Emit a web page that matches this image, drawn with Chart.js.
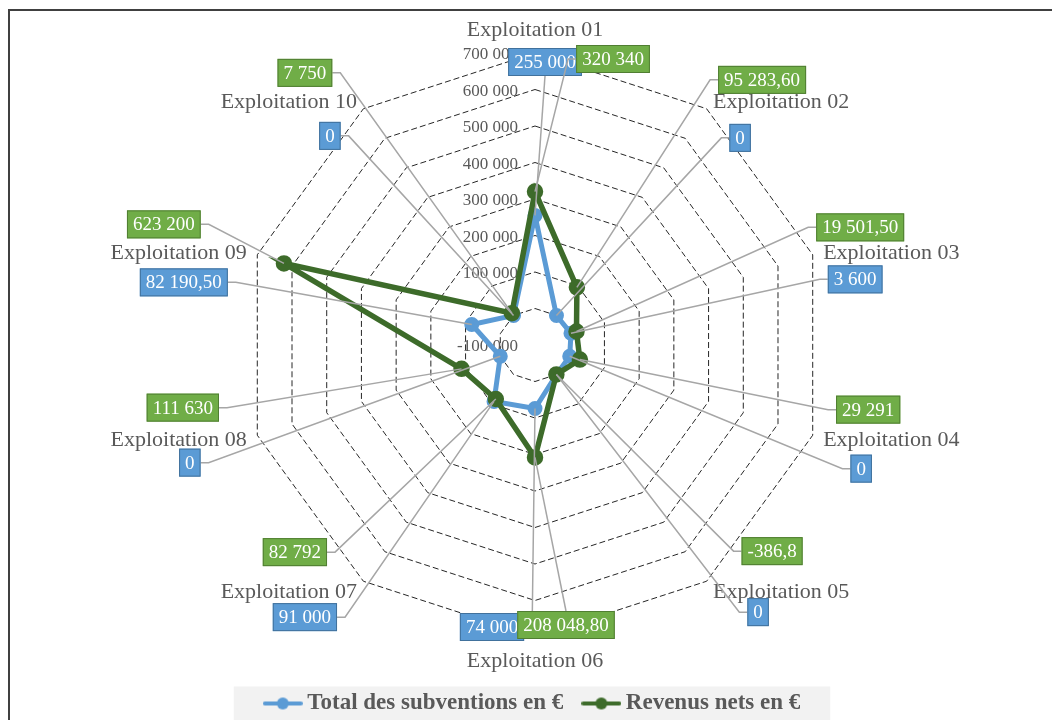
<!DOCTYPE html>
<html>
<head>
<meta charset="utf-8">
<script src="https://cdn.jsdelivr.net/npm/chart.js@4"></script>
<style>
  html, body { margin: 0; padding: 0; background: #fff; overflow: hidden; }
  #frame { position: absolute; left: 8px; top: 9px; width: 1100px; height: 800px;
           border-left: 2px solid #404040; border-top: 2px solid #404040; }
  #radar { position: absolute; left: 0; top: 0; }
</style>
</head>
<body>
<div id="frame"></div>
<canvas id="radar" width="1052" height="740"></canvas>
<script>
const categories = [
  "Exploitation 01", "Exploitation 02", "Exploitation 03", "Exploitation 04", "Exploitation 05",
  "Exploitation 06", "Exploitation 07", "Exploitation 08", "Exploitation 09", "Exploitation 10"
];
const subventions = [255000, 0, 3600, 0, 0, 74000, 91000, 0, 82190.5, 0];
const revenus = [320340, 95283.6, 19501.5, 29291, -386.8, 208048.8, 82792, 111630, 623200, 7750];
// decimals shown in the data labels (cell formats of the source sheet)
const subventionsDecimals = [0, 0, 0, 0, 0, 0, 0, 0, 2, 0];
const revenusDecimals = [0, 2, 2, 0, 1, 2, 0, 0, 0, 0];
const tickMin = -100000;
const tickMax = 700000;
const tickStep = 100000;

const BLUE = "#5b9bd5";
const GREEN = "#3d6b2a";
const TEXT = "#595959";

// label box offsets from each category label anchor [dx, dy]
const blueLabelOffsets = [[10, 20], [27, 38], [32, 28], [38, 30], [45, 22],
  [-43, -21], [-52, 27], [-57, 24], [-63, 31], [-27, 36]];
const greenLabelOffsets = [[78, 17], [49, -20], [37, -24], [45, -29], [59, -39],
  [31, -23], [-62, -38], [-64, -31], [-83, -27], [-52, -27]];

function fmt(v, dec) {
  const neg = v < 0;
  let [int, frac] = Math.abs(v).toFixed(dec).split(".");
  int = int.replace(/\B(?=(\d{3})+(?!\d))/g, " ");
  return (neg ? "-" : "") + int + (frac ? "," + frac : "");
}

function legendMarker(color) {
  const c = document.createElement("canvas");
  c.width = 40; c.height = 14;
  const g = c.getContext("2d");
  g.strokeStyle = color; g.lineWidth = 4; g.lineCap = "round";
  g.beginPath(); g.moveTo(2, 7); g.lineTo(38, 7); g.stroke();
  g.fillStyle = color;
  g.beginPath(); g.arc(20, 7, 6, 0, Math.PI * 2); g.fill();
  return c;
}
const markers = [legendMarker(BLUE), legendMarker(GREEN)];

function drawLeader(ctx, box, pt) {
  ctx.beginPath();
  if (pt.x >= box.x && pt.x <= box.x + box.w) {
    const sy = pt.y > box.y + box.h ? box.y + box.h : box.y;
    ctx.moveTo(box.x + box.w / 2, sy);
    ctx.lineTo(pt.x, pt.y);
  } else {
    const right = pt.x > box.x + box.w;
    const sx = right ? box.x + box.w : box.x;
    const cy = box.y + box.h / 2;
    ctx.moveTo(sx, cy);
    ctx.lineTo(sx + (right ? 8 : -8), cy);
    ctx.lineTo(pt.x, pt.y);
  }
  ctx.stroke();
}

const radarDecor = {
  id: "radarDecor",
  beforeDraw(chart) {
    // grey band behind the legend
    const lg = chart.legend;
    if (!lg || !lg.legendHitBoxes || !lg.legendHitBoxes.length) return;
    const hb = lg.legendHitBoxes;
    const first = hb[0], last = hb[hb.length - 1];
    const cy = lg.top + lg._computeTitleHeight() + lg.options.labels.padding + lg.options.labels.font.size / 2;
    const ctx = chart.ctx;
    ctx.save();
    ctx.fillStyle = "#f2f2f2";
    ctx.fillRect(first.left - 36, cy - 17, last.left + last.width - first.left + 66, 80);
    ctx.restore();
  },
  beforeDatasetsDraw(chart) {
    const r = chart.scales.r;
    const ctx = chart.ctx;
    ctx.save();
    // value axis labels, left of the vertical axis
    ctx.fillStyle = TEXT;
    ctx.font = "17px 'Liberation Serif'";
    ctx.textAlign = "right";
    ctx.textBaseline = "middle";
    r.ticks.forEach((t) => {
      const d = r.getDistanceFromCenterForValue(t.value);
      ctx.fillText(fmt(t.value, 0), r.xCenter - 17, r.yCenter - d + 2);
    });
    // category labels
    ctx.font = "22px 'Liberation Serif'";
    const half = categories.length / 2;
    categories.forEach((c, i) => {
      const extra = i === 0 ? 25 : i === half ? 22 : 11;
      const p = r.getPointPosition(i, r.drawingArea + extra);
      ctx.textAlign = Math.abs(p.x - r.xCenter) < 1 ? "center" : p.x > r.xCenter ? "left" : "right";
      ctx.fillText(c, p.x, p.y + 2);
    });
    ctx.restore();
  },
  afterDatasetsDraw(chart) {
    const r = chart.scales.r;
    const ctx = chart.ctx;
    const series = [
      { values: subventions, dec: subventionsDecimals, offsets: blueLabelOffsets, fill: BLUE, border: "#41719c", meta: chart.getDatasetMeta(0) },
      { values: revenus, dec: revenusDecimals, offsets: greenLabelOffsets, fill: "#70ad47", border: "#507e32", meta: chart.getDatasetMeta(1) }
    ];
    ctx.save();
    ctx.font = "19px 'Liberation Serif'";
    ctx.textBaseline = "middle";
    ctx.textAlign = "center";
    series.forEach((s) => {
      const boxes = s.values.map((v, i) => {
        const txt = fmt(v, s.dec[i]);
        const anchor = r.getPointPosition(i, r.drawingArea + 11);
        const w = ctx.measureText(txt).width + 12;
        const h = 28;
        const cx = anchor.x + s.offsets[i][0];
        const cy = anchor.y + s.offsets[i][1];
        return { txt, x: cx - w / 2, y: cy - h / 2, w, h };
      });
      ctx.strokeStyle = "#a6a6a6";
      ctx.lineWidth = 1.5;
      boxes.forEach((b, i) => drawLeader(ctx, b, s.meta.data[i]));
      boxes.forEach((b) => {
        ctx.fillStyle = s.fill;
        ctx.fillRect(b.x, b.y, b.w, b.h);
        ctx.strokeStyle = s.border;
        ctx.lineWidth = 1;
        ctx.strokeRect(b.x + 0.5, b.y + 0.5, b.w - 1, b.h - 1);
        ctx.fillStyle = "#ffffff";
        ctx.fillText(b.txt, b.x + b.w / 2, b.y + b.h / 2 + 1);
      });
    });
    ctx.restore();
  }
};

new Chart(document.getElementById("radar"), {
  type: "radar",
  data: {
    labels: categories,
    datasets: [
      {
        label: "Total des subventions en €",
        data: subventions,
        borderColor: BLUE,
        backgroundColor: BLUE,
        pointBackgroundColor: BLUE,
        pointBorderColor: BLUE,
        borderWidth: 5,
        pointRadius: 5,
        fill: false,
        order: 1,
      },
      {
        label: "Revenus nets en €",
        data: revenus,
        borderColor: GREEN,
        backgroundColor: GREEN,
        pointBackgroundColor: GREEN,
        pointBorderColor: GREEN,
        borderWidth: 5.5,
        pointRadius: 5.5,
        fill: false,
        order: 0,
      },
    ],
  },
  options: {
    responsive: false,
    animation: false,
    events: [],
    layout: { padding: { left: 18, right: 0, top: 53, bottom: 15 } },
    scales: {
      r: {
        min: tickMin,
        max: tickMax,
        ticks: { display: false, stepSize: tickStep },
        grid: { color: "#262626", lineWidth: 1 },
        border: { dash: [6, 3] },
        angleLines: { display: false },
        pointLabels: { display: false },
      },
    },
    plugins: {
      tooltip: { enabled: false },
      legend: {
        position: "bottom",
        title: { display: true, text: " ", font: { size: 10 }, padding: { top: 17, bottom: 0 } },
        labels: {
          usePointStyle: true,
          pointStyleWidth: 26,
          padding: 25,
          color: TEXT,
          font: { family: "'Liberation Serif'", size: 23, weight: "bold" },
          generateLabels: (chart) =>
            chart.data.datasets.map((ds, i) => ({
              text: ds.label,
              pointStyle: markers[i],
              fillStyle: ds.borderColor,
              strokeStyle: ds.borderColor,
              lineWidth: 0,
              fontColor: TEXT,
              hidden: false,
              datasetIndex: i,
            })),
        },
      },
    },
  },
  plugins: [radarDecor],
});
</script>
</body>
</html>
